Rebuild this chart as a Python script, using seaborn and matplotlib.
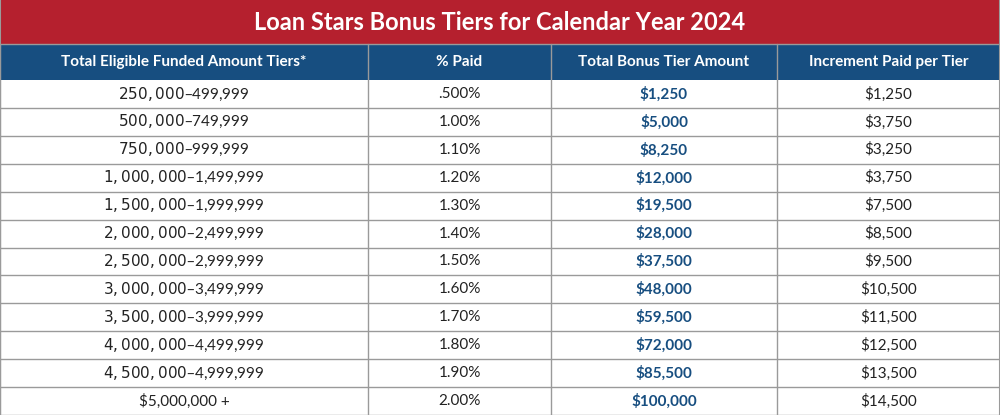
import matplotlib
matplotlib.use("Agg")
import matplotlib.pyplot as plt
import seaborn as sns
from matplotlib.patches import Rectangle

sns.set_theme(style="white", font="Lato")

title = "Loan Stars Bonus Tiers for Calendar Year 2024"
headers = ["Total Eligible Funded Amount Tiers*", "% Paid", "Total Bonus Tier Amount", "Increment Paid per Tier"]
tiers = ["$250,000  \u2013  $499,999", "$500,000  \u2013  $749,999", "$750,000  \u2013  $999,999",
         "$1,000,000  \u2013  $1,499,999", "$1,500,000  \u2013  $1,999,999", "$2,000,000  \u2013  $2,499,999",
         "$2,500,000  \u2013  $2,999,999", "$3,000,000  \u2013  $3,499,999", "$3,500,000  \u2013  $3,999,999",
         "$4,000,000  \u2013  $4,499,999", "$4,500,000  \u2013  $4,999,999", "$5,000,000 +"]
paid = [".500%", "1.00%", "1.10%", "1.20%", "1.30%", "1.40%", "1.50%", "1.60%", "1.70%", "1.80%", "1.90%", "2.00%"]
total = ["$1,250", "$5,000", "$8,250", "$12,000", "$19,500", "$28,000", "$37,500", "$48,000",
         "$59,500", "$72,000", "$85,500", "$100,000"]
increment = ["$1,250", "$3,750", "$3,250", "$3,750", "$7,500", "$8,500", "$9,500", "$10,500",
             "$11,500", "$12,500", "$13,500", "$14,500"]

RED = "#B5202E"; BLUE = "#174E80"; GRID = "#9a9a9a"
W, H = 1000, 415
cols = [0, 368, 551, 777, 1000]
t_h, h_top, h_bot = 44, 44, 80
n = len(tiers)
row_h = (H - h_bot) / n

fig = plt.figure(figsize=(10, 4.15), dpi=100)
ax = fig.add_axes([0, 0, 1, 1])
ax.set_xlim(0, W); ax.set_ylim(H, 0); ax.axis("off")

ax.add_patch(Rectangle((0, 0), W, t_h, color=RED, lw=0))
ax.text(W / 2, t_h / 2 + 1, title, color="white", fontsize=17, fontweight="bold", ha="center", va="center")
ax.add_patch(Rectangle((0, h_top), W, h_bot - h_top, color=BLUE, lw=0))
for i, hd in enumerate(headers):
    cx = (cols[i] + cols[i + 1]) / 2
    ax.text(cx, (h_top + h_bot) / 2, hd, color="white", fontsize=11, fontweight="bold", ha="center", va="center")

data = [tiers, paid, total, increment]
for r in range(n):
    yc = h_bot + (r + 0.5) * row_h
    for c in range(4):
        cx = (cols[c] + cols[c + 1]) / 2
        bold = c == 2
        ax.text(cx, yc, data[c][r], fontsize=11, ha="center", va="center",
                color=BLUE if bold else "#222222", fontweight="bold" if bold else "normal")

for r in range(1, n + 1):
    y = h_bot + r * row_h
    ax.plot([0, W], [y, y], color=GRID, lw=1)
for x in cols:
    ax.plot([x, x], [h_top, H], color=GRID, lw=1)
ax.plot([0, W], [t_h, t_h], color=GRID, lw=1)
ax.plot([0, 0], [0, H], color=GRID, lw=1.5)
ax.plot([W, W], [0, H], color=GRID, lw=1.5)

fig.savefig("out.png", dpi=100)
